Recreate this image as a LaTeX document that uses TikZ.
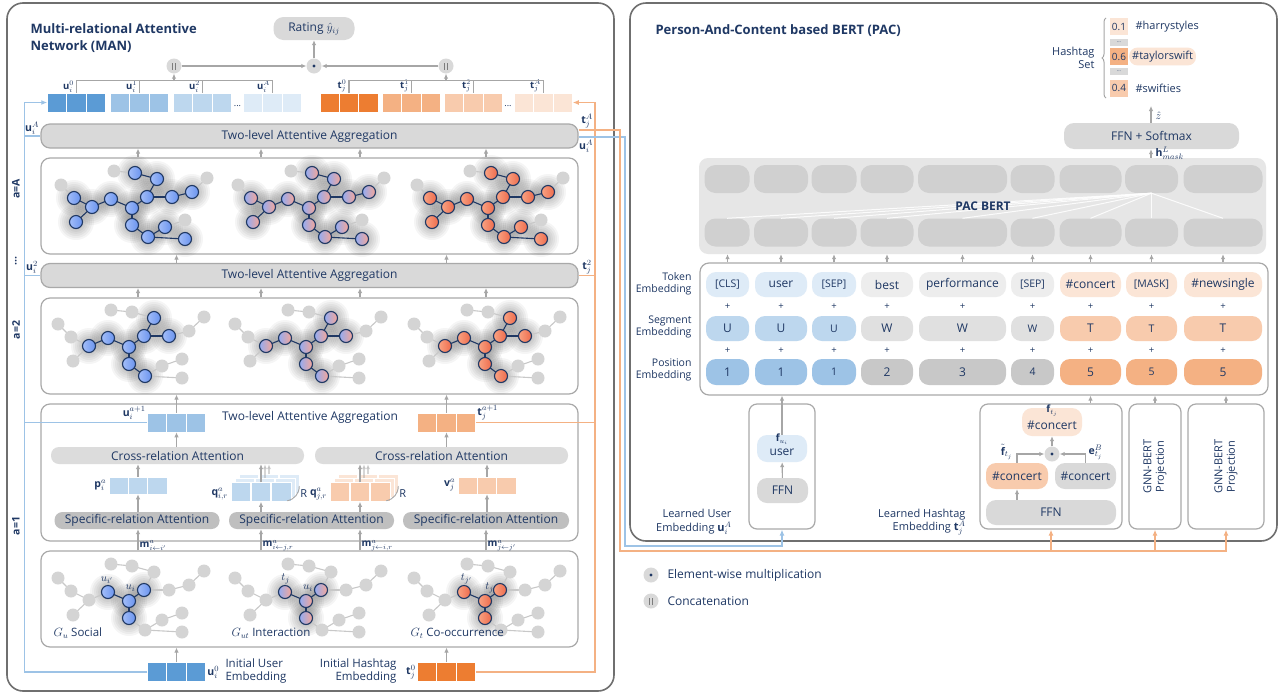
\documentclass[tikz,border=0pt]{standalone}
\usepackage{fontspec}
\setmainfont{Open Sans}
\usepackage{amsmath}
\DeclareMathSizes{10.5}{10.5}{8}{6}
\DeclareMathSizes{10}{10}{7.5}{5.5}
\DeclareMathSizes{9.5}{9.5}{7}{5}
\usetikzlibrary{arrows.meta,decorations.pathreplacing,calc}
\definecolor{navy}{HTML}{1F3864}
\definecolor{panelB}{HTML}{6F6F6F}
\definecolor{boxB}{HTML}{A9A9A9}
\definecolor{barF}{HTML}{D9D9D9}
\definecolor{crossF}{HTML}{DCDCDC}
\definecolor{specF}{HTML}{BFBFBF}
\definecolor{arrC}{HTML}{A6A6A6}
\definecolor{bA}{HTML}{5B9BD5}
\definecolor{bB}{HTML}{9DC3E6}
\definecolor{bC}{HTML}{BDD7EE}
\definecolor{bD}{HTML}{DEEBF7}
\definecolor{oA}{HTML}{ED7D31}
\definecolor{oB}{HTML}{F4B183}
\definecolor{oC}{HTML}{F8CBAD}
\definecolor{oD}{HTML}{FBE5D6}
\definecolor{gT}{HTML}{EDEDED}
\definecolor{gS}{HTML}{E0E0E0}
\definecolor{gP}{HTML}{C8C8C8}
\definecolor{bertF}{HTML}{E6E6E6}
\definecolor{bertP}{HTML}{D0D0D0}
\definecolor{gnF}{HTML}{D4D4D4}
\definecolor{geC}{HTML}{C8C8C8}
\definecolor{bnL}{HTML}{A3BEF9}
\definecolor{bnR}{HTML}{6A93EE}
\definecolor{pnL}{HTML}{93ACF2}
\definecolor{pnR}{HTML}{F6A698}
\definecolor{onL}{HTML}{F9A383}
\definecolor{onR}{HTML}{EE6B4C}
\newcommand{\fsz}[2]{\fontsize{#1}{#2}\selectfont}
\tikzset{
 panel/.style={draw=panelB, line width=1.6pt, rounded corners=16pt},
 ibox/.style={draw=boxB, line width=1.2pt, rounded corners=9pt, fill=white, inner sep=0pt},
 bigbar/.style={draw=boxB, line width=1.2pt, fill=barF, rounded corners=9pt, minimum width=537pt, minimum height=24pt, inner sep=0pt},
 crossbar/.style={fill=crossF, rounded corners=8pt, minimum width=253pt, minimum height=17pt, inner sep=0pt},
 specbar/.style={fill=specF, rounded corners=8pt, minimum width=165pt, minimum height=17pt, inner sep=0pt},
 vecn/.style={rectangle, draw=white, line width=0.5pt, minimum width=58pt, minimum height=19pt, inner sep=0pt,
   path picture={\draw[white,line width=1.3pt]
    ($(path picture bounding box.south west)!0.3333!(path picture bounding box.south east)$) -- ($(path picture bounding box.north west)!0.3333!(path picture bounding box.north east)$)
    ($(path picture bounding box.south west)!0.6667!(path picture bounding box.south east)$) -- ($(path picture bounding box.north west)!0.6667!(path picture bounding box.north east)$);}},
 arr/.style={draw=arrC, line width=1.1pt, -{Latex[length=5pt,width=4.5pt]}},
 ghost/.style={arr, opacity=0.45},
 gl/.style={draw=arrC, line width=1.1pt},
 lblue/.style={draw=bB, line width=1.4pt},
 lorange/.style={draw=oB, line width=1.4pt},
 opc/.style={circle, fill=barF, minimum size=15pt, inner sep=0pt},
 dotop/.style={opc, path picture={\fill[navy] (path picture bounding box.center) circle (1.6pt);}},
 catop/.style={opc, path picture={\draw[arrC!75!black, line width=1pt] ($(path picture bounding box.center)+(-1.8pt,-3.5pt)$) -- ++(0,7pt) ($(path picture bounding box.center)+(1.8pt,-3.5pt)$) -- ++(0,7pt);}},
 lab/.style={font=\fsz{10.5}{12}, inner sep=0.5pt},
 pillb/.style={rounded corners=10pt, inner sep=0pt},
 tok/.style={pillb, minimum height=25pt},
 bpill/.style={fill=bertP, rounded corners=11pt, minimum height=28pt, inner sep=0pt},
 plussign/.style={font=\fsz{9.5}{10}, inner sep=0pt},
 gnode/.style={circle, fill=gnF, minimum size=13pt, inner sep=0pt},
 cnode/.style={circle, draw=navy, line width=1.1pt, minimum size=13pt, inner sep=0pt},
 bnode/.style={cnode, left color=bnL, right color=bnR},
 pnode/.style={cnode, left color=pnL, right color=pnR},
 onode/.style={cnode, left color=onL, right color=onR},
 dedge/.style={draw=navy, line width=1.1pt},
 gedge/.style={draw=geC, line width=1.1pt},
 hcell/.style={minimum width=18pt, minimum height=17pt, inner sep=0pt, font=\fsz{10}{10}},
 hgap/.style={fill=barF, minimum width=18pt, minimum height=7pt, inner sep=0pt, font=\fsz{5}{5}},
}
\newcommand{\gtemplate}{%
\coordinate (n1) at (114,171);
\coordinate (n2) at (135,173);
\coordinate (n3) at (157,179);
\coordinate (n4) at (147,197);
\coordinate (n5) at (172,197);
\coordinate (n6) at (192,192);
\coordinate (n7) at (207,178);
\coordinate (n8) at (61,185);
\coordinate (n9) at (74,198);
\coordinate (n10) at (92,207);
\coordinate (n11) at (111,199);
\coordinate (n12) at (132,208);
\coordinate (n13) at (76,222);
\coordinate (n14) at (132,225);
\coordinate (n15) at (148,237);
\coordinate (n16) at (165,227);
\coordinate (n17) at (185,220);
\coordinate (n18) at (185,239);}
\newcommand{\drawgraph}[7]{%
 \begin{scope}[shift={(#1,#2)}]
  \gtemplate
  \foreach \i in {#4}{\foreach \r in {8,10,...,18}{\fill[black,opacity=0.04] (n\i) circle (\r pt);}}
  \foreach \a/\b in {#7} \draw[gedge] (n\a) -- (n\b);
  \foreach \a/\b in {#6} \draw[dedge] (n\a) -- (n\b);
  \foreach \i in {#5} \node[gnode] (g\i) at (n\i) {};
  \foreach \i in {#4} \node[#3] (c\i) at (n\i) {};
 \end{scope}}
\begin{document}
\begin{tikzpicture}[x=1pt,y=-1pt,font=\fsz{12}{14},text=navy]
\useasboundingbox (0,0) rectangle (1280,694);
\fill[white] (0,0) rectangle (1280,694);
\draw[panel] (7,3) rectangle (614,691);
\draw[panel] (630,3) rectangle (1277,541);

\coordinate (cA) at (138,0);
\coordinate (cB) at (261,0);
\coordinate (cC) at (360,0);
\coordinate (cD) at (486,0);
\coordinate (cu) at (176.5,0);
\coordinate (ct) at (446.5,0);

% ---------------- LEFT PANEL ----------------
\node[anchor=west, align=left, font=\bfseries\fsz{13}{17}] (mantitle) at (27,38) {Multi-relational Attentive\\Network (MAN)};

\node[pillb, fill=barF, minimum width=81pt, minimum height=23pt] (rating) at (314,28.5) {Rating $\hat{y}_{ij}$};
\node[catop] (cat1) at (174,66) {};
\node[dotop] (dotm) at (314,66) {};
\node[catop] (cat2) at (446,66) {};
\draw[arr] (dotm) -- (rating);
\draw[arr] (cat1) -- (dotm);
\draw[arr] (cat2) -- (dotm);

\node[vecn, fill=bA] (u0) at (76.5,102.5) {};
\node[vecn, fill=bB] (u1) at (139.5,102.5) {};
\node[vecn, fill=bC] (u2) at (202.5,102.5) {};
\node[font=\fsz{9}{10}] (udots) at (237.5,106) {...};
\node[vecn, fill=bD] (uA) at (272.5,102.5) {};
\node[vecn, fill=oA] (t0) at (349,102.5) {};
\node[vecn, fill=oB] (t1) at (411.5,102.5) {};
\node[vecn, fill=oC] (t2) at (473.5,102.5) {};
\node[font=\fsz{9}{10}] (tdots) at (508,106) {...};
\node[vecn, fill=oD] (tA) at (543.5,102.5) {};
\foreach \v/\s in {u0/0,u1/1,u2/2,uA/A} \node[lab, anchor=south east, font=\fsz{9.5}{10}, inner sep=0pt] (lb\v) at ($(\v.north)+(-2.5,-0.5)$) {$\mathbf{u}_i^{\s}$};
\foreach \v/\s in {t0/0,t1/1,t2/2,tA/A} \node[lab, anchor=south east, font=\fsz{9.5}{10}, inner sep=0pt] (lb\v) at ($(\v.north)+(-2.5,-0.5)$) {$\mathbf{t}_j^{\s}$};
\draw[gl] (u0.north) -- ++(0,-12) -| (uA.north);
\draw[gl] (u1.north) -- ++(0,-12);
\draw[gl] (u2.north) -- ++(0,-12);
\draw[gl] (t0.north) -- ++(0,-12) -| (tA.north);
\draw[gl] (t1.north) -- ++(0,-12);
\draw[gl] (t2.north) -- ++(0,-12);
\coordinate (ubr) at (174,81);
\coordinate (tbr) at (446,81);
\draw[arr] (ubr) -- (cat1);
\draw[arr] (tbr) -- (cat2);

\node[bigbar] (agg1) at (309.5,136) {Two-level Attentive Aggregation};
\node[ibox, minimum width=537pt, minimum height=96pt] (boxA) at (309.5,206) {};
\node[bigbar] (agg2) at (309.5,275.5) {Two-level Attentive Aggregation};
\node[ibox, minimum width=537pt, minimum height=96pt] (box2) at (309.5,346) {};
\node[ibox, minimum width=537pt, minimum height=137pt] (box1) at (309.5,472.5) {};
\node[ibox, minimum width=537pt, minimum height=96pt] (boxG) at (309.5,599) {};

% graphs in box a=A
\drawgraph{0}{0}{bnode}{2,3,4,5,6,9,10,11,12,13,14,15,16,18}{1,7,8,17}{2/3,3/4,4/5,5/6,4/12,11/12,10/11,9/10,10/13,12/14,14/15,15/16,15/18}{1/2,6/7,8/9,16/17}
\drawgraph{177}{0}{pnode}{2,3,4,5,6,9,10,11,12,13,14,15,16,18}{1,7,8,17}{2/3,3/4,4/5,5/6,4/12,11/12,10/11,9/10,10/13,12/14,14/15,15/16,15/18}{1/2,6/7,8/9,16/17}
\drawgraph{356}{0}{onode}{2,3,4,5,6,9,10,11,12,13,14,15,16,18}{1,7,8,17}{2/3,3/4,4/5,5/6,4/12,11/12,10/11,9/10,10/13,12/14,14/15,15/16,15/18}{1/2,6/7,8/9,16/17}
% graphs in box a=2
\drawgraph{-3}{139}{bnode}{3,4,5,10,11,12,14,15}{1,2,6,7,8,9,13,16,17,18}{3/4,4/5,4/12,11/12,10/11,12/14,14/15}{1/2,2/3,5/6,6/7,8/9,9/10,10/13,15/16,16/17,15/18}
\drawgraph{174}{139}{pnode}{3,4,5,10,11,12,14,15}{1,2,6,7,8,9,13,16,17,18}{3/4,4/5,4/12,11/12,10/11,12/14,14/15}{1/2,2/3,5/6,6/7,8/9,9/10,10/13,15/16,16/17,15/18}
\drawgraph{353}{139}{onode}{3,4,5,10,11,12,14,15}{1,2,6,7,8,9,13,16,17,18}{3/4,4/5,4/12,11/12,10/11,12/14,14/15}{1/2,2/3,5/6,6/7,8/9,9/10,10/13,15/16,16/17,15/18}
% graphs in bottom box
\drawgraph{-3}{393}{bnode}{4,11,12,14}{1,2,3,5,6,7,8,9,10,13,15,16,17,18}{4/12,11/12,12/14}{1/2,2/3,3/4,4/5,5/6,6/7,8/9,9/10,10/11,10/13,14/15,15/16,16/17,15/18}
\drawgraph{174}{393}{pnode}{4,11,12,14}{1,2,3,5,6,7,8,9,10,13,15,16,17,18}{4/12,11/12,12/14}{1/2,2/3,3/4,4/5,5/6,6/7,8/9,9/10,10/11,10/13,14/15,15/16,16/17,15/18}
\drawgraph{353}{393}{onode}{4,11,12,14}{1,2,3,5,6,7,8,9,10,13,15,16,17,18}{4/12,11/12,12/14}{1/2,2/3,3/4,4/5,5/6,6/7,8/9,9/10,10/11,10/13,14/15,15/16,16/17,15/18}

\node[font=\fsz{11}{12}] (lui1) at (107,580) {$u_{i'}$};
\node[font=\fsz{11}{12}] (lui2) at (130.5,588) {$u_i$};
\node[font=\fsz{11}{12}] (ltj1) at (285.5,579) {$t_j$};
\node[font=\fsz{11}{12}] (lui3) at (308,588) {$u_i$};
\node[font=\fsz{11}{12}] (ltj2) at (466.5,579) {$t_{j'}$};
\node[font=\fsz{11}{12}] (ltj3) at (489.5,588) {$t_j$};
\node[anchor=west, font=\fsz{11.5}{12}] (gsoc) at (50,633) {$G_u$ Social};
\node[anchor=west, font=\fsz{11.5}{12}] (gint) at (228,633) {$G_{ut}$ Interaction};
\node[anchor=west, font=\fsz{11.5}{12}] (gco) at (407,633) {$G_t$ Co-occurrence};

% stubs between levels
\foreach \c in {cA,cB,cC,cD} {
  \draw[arr] (boxA.north -| \c) -- (agg1.south -| \c);
  \draw[arr] (box2.north -| \c) -- (agg2.south -| \c);
}
\foreach \c in {cu,ct} \draw[arr] (agg2.north -| \c) -- (boxA.south -| \c);

% a=1 box contents
\node (agg3) at (310,417) {Two-level Attentive Aggregation};
\node[vecn, fill=bB] (uap) at (176.5,422.5) {};
\node[vecn, fill=oB] (tap) at (446.5,422.5) {};
\node[lab, anchor=east] (luap) at ($(uap.north west)+(-1,0)$) {$\mathbf{u}_i^{a+1}$};
\node[lab, anchor=west] (ltap) at ($(tap.north east)+(1,0)$) {$\mathbf{t}_j^{a+1}$};
\draw[arr] (uap.north) -- (box2.south -| uap);
\draw[arr] (tap.north) -- (box2.south -| tap);

\node[crossbar] (cross1) at (177.5,455.5) {Cross-relation Attention};
\node[crossbar] (cross2) at (441.5,455.5) {Cross-relation Attention};
\draw[arr] (cross1.north -| uap) -- (uap.south);
\draw[arr] (cross2.north -| tap) -- (tap.south);

\node[vecn, fill=bC, minimum height=17pt] (pv) at (138,485.5) {};
\node[lab, anchor=east] (lpv) at ($(pv.west)+(-2,0)$) {$\mathbf{p}_i^a$};
\node[vecn, fill=bD, minimum width=60pt] (qi2) at (269,484) {};
\node[vecn, fill=bD, minimum width=60pt] (qi1) at (265,488) {};
\node[vecn, fill=bC, minimum width=60pt] (qi) at (261,492) {};
\node[lab, anchor=east] (lqi) at ($(qi.west)+(-2,2)$) {$\mathbf{q}_{i,r}^a$};
\node[font=\fsz{11}{12}, anchor=west, inner sep=0pt] (Rqi) at ($(qi.east)+(9,2)$) {R};
\draw[gl, line width=0.9pt] ($(qi.south east)+(-4,-1)$) to[bend right=40] ($(qi2.east)+(0,2)$);
\node[vecn, fill=oD, minimum width=60pt] (qj2) at (368,484) {};
\node[vecn, fill=oD, minimum width=60pt] (qj1) at (364,488) {};
\node[vecn, fill=oC, minimum width=60pt] (qj) at (360,492) {};
\node[lab, anchor=east] (lqj) at ($(qj.west)+(-2,2)$) {$\mathbf{q}_{j,r}^a$};
\node[font=\fsz{11}{12}, anchor=west, inner sep=0pt] (Rqj) at ($(qj.east)+(9,2)$) {R};
\draw[gl, line width=0.9pt] ($(qj.south east)+(-4,-1)$) to[bend right=40] ($(qj2.east)+(0,2)$);
\node[vecn, fill=oC, minimum height=17pt] (vv) at (487,485.5) {};
\node[lab, anchor=east] (lvv) at ($(vv.west)+(-2,0)$) {$\mathbf{v}_j^a$};

\draw[arr] (pv.north) -- (cross1.south -| pv);
\draw[ghost] (qi2.north) -- (cross1.south -| qi2);
\draw[ghost] (qi1.north) -- (cross1.south -| qi1);
\draw[arr] (qi.north) -- (cross1.south -| qi);
\draw[ghost] (qj2.north) -- (cross2.south -| qj2);
\draw[ghost] (qj1.north) -- (cross2.south -| qj1);
\draw[arr] (qj.north) -- (cross2.south -| qj);
\draw[arr] (vv.north) -- (cross2.south -| vv);

\node[specbar] (spec1) at (137,520.5) {Specific-relation Attention};
\node[specbar] (spec2) at (311.5,520.5) {Specific-relation Attention};
\node[specbar, minimum width=166pt] (spec3) at (486,520.5) {Specific-relation Attention};
\draw[arr] (spec1.north -| pv) -- (pv.south);
\draw[arr] (spec2.north -| qi) -- (qi.south);
\draw[arr] (spec2.north -| qj) -- (qj.south);
\draw[arr] (spec3.north -| vv) -- (vv.south);

\draw[arr] (boxG.north -| cA) -- (spec1.south -| cA);
\draw[arr] (boxG.north -| cB) -- (spec2.south -| cB);
\draw[arr] (boxG.north -| cC) -- (spec2.south -| cC);
\draw[arr] (boxG.north -| cD) -- (spec3.south -| cD);
\node[lab, anchor=west, font=\fsz{10}{11}] (m1) at ($(boxG.north -| cA)+(1,-5)$) {$\mathbf{m}^a_{i\leftarrow i'}$};
\node[lab, anchor=west, font=\fsz{10}{11}] (m2) at ($(boxG.north -| cB)+(1,-5)$) {$\mathbf{m}^a_{i\leftarrow j,r}$};
\node[lab, anchor=west, font=\fsz{10}{11}] (m3) at ($(boxG.north -| cC)+(1,-5)$) {$\mathbf{m}^a_{j\leftarrow i,r}$};
\node[lab, anchor=west, font=\fsz{10}{11}] (m4) at ($(boxG.north -| cD)+(1,-5)$) {$\mathbf{m}^a_{j\leftarrow j'}$};

% initial embeddings
\node[vecn, fill=bA] (u0i) at (176.5,672) {};
\node[vecn, fill=oA] (t0i) at (446.5,672) {};
\draw[arr] (u0i.north) -- (boxG.south -| u0i);
\draw[arr] (t0i.north) -- (boxG.south -| t0i);
\node[lab, anchor=west] (lu0i) at ($(u0i.east)+(1,0)$) {$\mathbf{u}_i^0$};
\node[anchor=west, align=left, font=\fsz{11.5}{13.5}] (iue) at (222,671) {Initial User\\Embedding};
\node[lab, anchor=east] (lt0i) at ($(t0i.west)+(-1,0)$) {$\mathbf{t}_j^0$};
\node[anchor=east, align=right, font=\fsz{11.5}{13.5}] (ihe) at (400,671) {Initial Hashtag\\Embedding};

% side labels
\node[rotate=90, font=\bfseries\fsz{10.5}{12}] (laA) at (16,189) {a=A};
\node[rotate=90, font=\bfseries\fsz{10.5}{12}] (ladots) at (16,261) {...};
\node[rotate=90, font=\bfseries\fsz{10.5}{12}] (la2) at (16,330) {a=2};
\node[rotate=90, font=\bfseries\fsz{10.5}{12}] (la1) at (16,526) {a=1};

% blue / orange lines left panel
\coordinate (bL) at (24.5,102.5);
\coordinate (oL) at (595,102.5);
\draw[lblue, -{Latex[length=6pt,width=5pt]}] (u0i.west) -| (bL) -- (u0.west);
\draw[lblue] (agg1.west -| bL) -- (agg1.west);
\draw[lblue] (agg2.west -| bL) -- (agg2.west);
\draw[lblue] (uap.west -| bL) -- (uap.west);
\draw[lorange, -{Latex[length=6pt,width=5pt]}] (t0i.east) -| (oL) -- (tA.east);
\draw[lorange] (agg2.east) -- (agg2.east -| oL);
\draw[lorange] (tap.east) -- (tap.east -| oL);
\node[lab, anchor=south] (luAl) at (32,135) {$\mathbf{u}_i^A$};
\node[lab, anchor=south] (lu2l) at (32,274.5) {$\mathbf{u}_i^2$};
\node[lab, anchor=south] (ltAr) at (587,129) {$\mathbf{t}_j^A$};
\node[lab, anchor=north] (luAr) at (586,139) {$\mathbf{u}_i^A$};
\node[lab, anchor=south] (lt2r) at (587,274.5) {$\mathbf{t}_j^2$};

% ---------------- RIGHT PANEL ----------------
\node[anchor=west, font=\bfseries\fsz{13}{15}] (pactitle) at (652,31) {Person-And-Content based BERT (PAC)};

\node[hcell, fill=oD] (p1) at (1119,26.5) {0.1};
\node[hgap] (pg1) at (1119,42.5) {...};
\node[hcell, fill=oB] (p2) at (1119,56.5) {0.6};
\node[hgap] (pg2) at (1119,71.5) {...};
\node[hcell, fill=oC] (p3) at (1119,88) {0.4};
\node[anchor=west, font=\fsz{11}{12}] (h1) at (1132,27) {\#harrystyles};
\node[anchor=west, fill=oD, rounded corners=8pt, minimum height=17pt, inner xsep=3pt, font=\fsz{11}{12}] (h2) at (1129,56.5) {\#taylorswift};
\node[anchor=west, font=\fsz{11}{12}] (h3) at (1132,88) {\#swifties};
\draw[decorate, decoration={brace, amplitude=4pt}, draw=arrC, line width=1pt] (1106,98) -- (1106,18);
\node[anchor=east, align=right, font=\fsz{11}{13}] (hset) at (1098,58) {Hashtag\\Set};

\coordinate (zend) at (1151,106);
\node[pillb, fill=barF, minimum width=175pt, minimum height=26pt] (ffn) at (1151.5,136) {FFN + Softmax};
\draw[arr] (ffn.north -| zend) -- (zend);
\node[lab, anchor=west] (lz) at (1155,116) {$\hat{z}$};

\node[fill=bertF, rounded corners=9pt, minimum width=567pt, minimum height=96pt, inner sep=0pt] (bert) at (982.5,206) {};
\draw[arr] (bert.north -| zend) -- (ffn.south -| zend);
\node[lab, anchor=west] (lh) at (1155,153) {$\mathbf{h}^L_{mask}$};

\foreach \i/\x/\w in {1/727/45,2/781/54,3/834/45,4/887/53,5/962.5/89,6/1032.5/44,7/1090.5/62,8/1151.5/53,9/1223/79} {
  \node[bpill, minimum width=\w pt] (bt\i) at (\x,179) {};
  \node[bpill, minimum width=\w pt] (bb\i) at (\x,232.5) {};
}
\foreach \i in {1,...,9} \draw[white, line width=1pt, opacity=0.85] (bt8.south) -- (bb\i.north);
\node[font=\bfseries\fsz{12}{13}] (bertlabel) at (983,206) {PAC BERT};

\node[draw=boxB, line width=1.2pt, rounded corners=9pt, minimum width=568pt, minimum height=132pt, inner sep=0pt] (emb) at (984,329) {};
\foreach \i/\x/\w/\c/\t in {1/727.5/43/bD/{\fsz{10.5}{12}[CLS]}, 2/781/52/bD/user, 3/834/44/bD/{\fsz{10.5}{12}[SEP]}, 4/887/52/gT/best, 5/962.5/87/gT/performance, 6/1032.5/43/gT/{\fsz{10.5}{12}[SEP]}, 7/1090.5/61/oD/{\#concert}, 8/1151.5/51/oD/{\fsz{10.5}{12}[MASK]}, 9/1223/78/oD/{\#newsingle}}
  \node[tok, fill=\c, minimum width=\w pt] (tk\i) at (\x,284.5) {\t};
\foreach \i/\x/\w/\c/\t in {1/727.5/43/bC/U, 2/781/52/bC/U, 3/834/44/bC/{\fsz{10.5}{12}U}, 4/887/52/gS/W, 5/962.5/87/gS/W, 6/1032.5/43/gS/{\fsz{10.5}{12}W}, 7/1090.5/61/oC/T, 8/1151.5/51/oC/{\fsz{10.5}{12}T}, 9/1223/78/oC/T}
  \node[tok, fill=\c, minimum width=\w pt] (sg\i) at (\x,328.5) {\t};
\foreach \i/\x/\w/\c/\t in {1/727.5/43/bB/1, 2/781/52/bB/1, 3/834/44/bB/{\fsz{10.5}{12}1}, 4/887/52/gP/2, 5/962.5/87/gP/3, 6/1032.5/43/gP/{\fsz{10.5}{12}4}, 7/1090.5/61/oB/5, 8/1151.5/51/oB/{\fsz{10.5}{12}5}, 9/1223/78/oB/5}
  \node[tok, fill=\c, minimum width=\w pt, minimum height=26pt] (ps\i) at (\x,372) {\t};
\foreach \i in {1,...,9} {
  \node[plussign] (pa\i) at (tk\i |- 0,306.5) {+};
  \node[plussign] (pb\i) at (tk\i |- 0,350.5) {+};
  \draw[arr] (tk\i |- emb.north) -- (tk\i |- bert.south);
}
\node[anchor=east, align=right, font=\fsz{10.5}{12.5}] (ltok) at (695,284) {Token\\Embedding};
\node[anchor=east, align=right, font=\fsz{10.5}{12.5}] (lseg) at (695,327) {Segment\\Embedding};
\node[anchor=east, align=right, font=\fsz{10.5}{12.5}] (lpos) at (695,370) {Position\\Embedding};

% lower right boxes
\node[draw=boxB, line width=1.2pt, rounded corners=8pt, minimum width=66pt, minimum height=125pt, inner sep=0pt] (ubox) at (782,466.5) {};
\node[pillb, fill=bD, minimum width=50pt, minimum height=27pt] (upill) at (782,448.5) {};
\node[font=\fsz{10}{10}, inner sep=0pt] (lfu) at (782,439) {$\mathbf{f}_{u_i}$};
\node[inner sep=0pt] (utext) at (782,452) {user};
\node[pillb, fill=barF, minimum width=51pt, minimum height=25pt] (uffn) at (782.5,490.5) {FFN};
\draw[arr] (uffn) -- (upill);
\draw[arr] (upill.north) -- (upill.north |- emb.south);
\node[anchor=east, align=right, font=\fsz{11}{13.5}] (lue) at (735,522) {Learned User\\Embedding $\mathbf{u}_i^A$};

\node[draw=boxB, line width=1.2pt, rounded corners=8pt, minimum width=142pt, minimum height=125pt, inner sep=0pt] (hbox) at (1051,466.5) {};
\node[pillb, fill=oD, minimum width=60pt, minimum height=28pt] (fpill) at (1052,422) {};
\node[font=\fsz{10}{10}, inner sep=0pt] (lft) at (1052,410.5) {$\mathbf{f}_{t_j}$};
\node[inner sep=0pt] (ftext) at (1052,425) {\#concert};
\node[dotop] (hdot) at (1052,454) {};
\node[pillb, fill=oC, minimum width=62pt, minimum height=26pt] (hpo) at (1017,476) {\#concert};
\node[pillb, fill=barF, minimum width=61pt, minimum height=26pt] (hpg) at (1085.5,476) {\#concert};
\node[pillb, fill=barF, minimum width=130pt, minimum height=25pt] (hffn) at (1051,512.5) {FFN};
\draw[arr] (hdot) -- (fpill);
\draw[arr] (hpo.north) |- (hdot.west);
\draw[arr] (hpg.north) |- (hdot.east);
\draw[arr] (hffn.north -| hpo) -- (hpo.south);
\node[lab, anchor=east] (lftil) at (1013,452) {$\tilde{\mathbf{f}}_{t_j}$};
\node[lab, anchor=west] (leb) at (1088,452) {$\mathbf{e}^B_{t_j}$};
\draw[arr] (hbox.north -| tk7) -- (tk7 |- emb.south);
\node[anchor=east, align=right, font=\fsz{11}{13.5}] (lhe) at (969,522) {Learned Hashtag\\Embedding $\mathbf{t}_j^A$};

\node[draw=boxB, line width=1.2pt, rounded corners=8pt, minimum width=52pt, minimum height=125pt, inner sep=0pt] (gnn1) at (1155,466.5) {};
\node[draw=boxB, line width=1.2pt, rounded corners=8pt, minimum width=76pt, minimum height=125pt, inner sep=0pt] (gnn2) at (1226,466.5) {};
\node[rotate=90, align=center, font=\fsz{11}{12.5}] (gnt1) at (gnn1) {GNN-BERT\\Projection};
\node[rotate=90, align=center, font=\fsz{11}{12.5}] (gnt2) at (gnn2) {GNN-BERT\\Projection};
\draw[arr] (gnn1.north) -- (gnn1.north |- emb.south);
\draw[arr] (gnn2.north) -- (gnn2.north |- emb.south);

% long connections
\coordinate (bR) at (625,546);
\coordinate (oR) at (620,551);
\draw[lblue, -{Latex[length=6pt,width=5pt]}] ($(agg1.east)+(0,1)$) -| (bR) -| (ubox.south);
\draw[lorange, -{Latex[length=6pt,width=5pt]}] ($(agg1.east)+(0,-6)$) -| (oR) -| (gnn2.south);
\draw[lorange, -{Latex[length=6pt,width=5pt]}] (hbox.south |- oR) -- (hbox.south);
\draw[lorange, -{Latex[length=6pt,width=5pt]}] (gnn1.south |- oR) -- (gnn1.south);

% legend
\node[dotop] (legdot) at (651,575) {};
\node[anchor=west, font=\fsz{12}{13}] (legdott) at (664,575) {Element-wise multiplication};
\node[catop] (legcat) at (651,601) {};
\node[anchor=west, font=\fsz{12}{13}] (legcatt) at (664,601) {Concatenation};
\end{tikzpicture}
\end{document}
